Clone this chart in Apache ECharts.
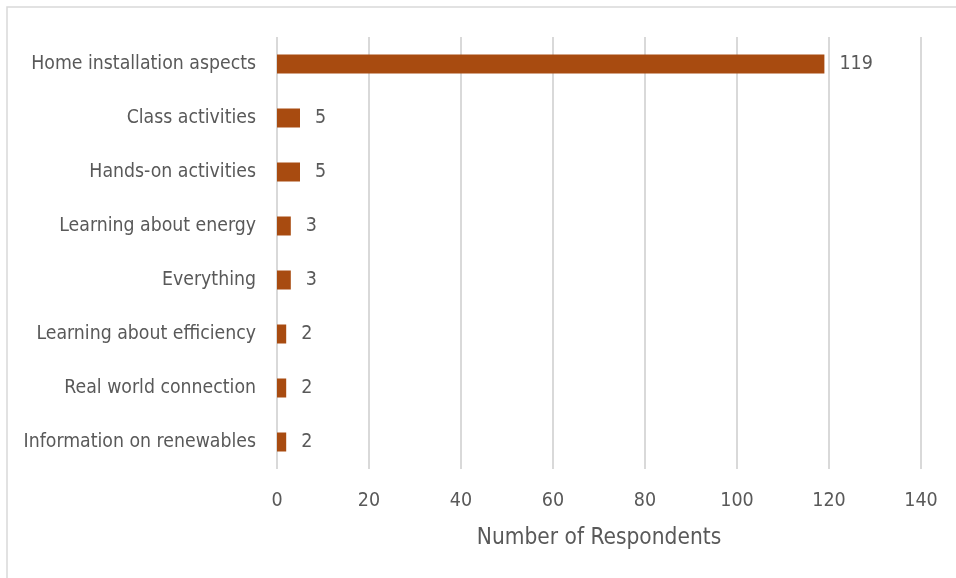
<!DOCTYPE html>
<html>
<head>
<meta charset="utf-8">
<script src="https://cdn.jsdelivr.net/npm/echarts@6/dist/echarts.min.js"></script>
<style>
  html, body { margin: 0; padding: 0; background: #fff; }
  #chart { width: 956px; height: 578px; }
</style>
</head>
<body>
<div id="chart"></div>
<script>
// Responses, listed top to bottom
const categories = [
  'Home installation aspects',
  'Class activities',
  'Hands-on activities',
  'Learning about energy',
  'Everything',
  'Learning about efficiency',
  'Real world connection',
  'Information on renewables'
];
const respondents = [119, 5, 5, 3, 3, 2, 2, 2];
const xTicks = [0, 20, 40, 60, 80, 100, 120, 140];

const FONT = '"DejaVu Sans Condensed", "Liberation Sans Narrow", "Liberation Sans", sans-serif';
const TEXT = '#595959';

const chart = echarts.init(document.getElementById('chart'));
chart.setOption({
  animation: false,
  backgroundColor: '#ffffff',
  graphic: [{
    type: 'polyline',
    shape: { points: [[7, 600], [7, 7], [960, 7]] },
    style: { stroke: '#d9d9d9', fill: null, lineWidth: 1.5 },
    silent: true
  }],
  grid: { left: 277, right: 35, top: 37, bottom: 109, containLabel: false },
  xAxis: {
    type: 'value',
    min: xTicks[0],
    max: xTicks[xTicks.length - 1],
    interval: xTicks[1] - xTicks[0],
    name: 'Number of Respondents',
    nameLocation: 'middle',
    nameGap: 58,
    nameTextStyle: { fontFamily: FONT, fontSize: 22.5, color: TEXT },
    axisLine: { show: false },
    axisTick: { show: false },
    axisLabel: { fontFamily: FONT, fontSize: 19.5, color: TEXT, margin: 22 },
    splitLine: { show: true, lineStyle: { color: '#d9d9d9', width: 2 } }
  },
  yAxis: {
    type: 'category',
    data: categories,
    inverse: true,
    axisLine: { show: false },
    axisTick: { show: false },
    axisLabel: { fontFamily: FONT, fontSize: 19.3, color: TEXT, margin: 21 }
  },
  series: [{
    type: 'bar',
    data: respondents,
    barWidth: 19,
    itemStyle: { color: '#a84b10' },
    label: {
      show: true,
      position: 'right',
      distance: 15,
      fontFamily: FONT,
      fontSize: 19.5,
      color: TEXT
    }
  }]
});
</script>
</body>
</html>
